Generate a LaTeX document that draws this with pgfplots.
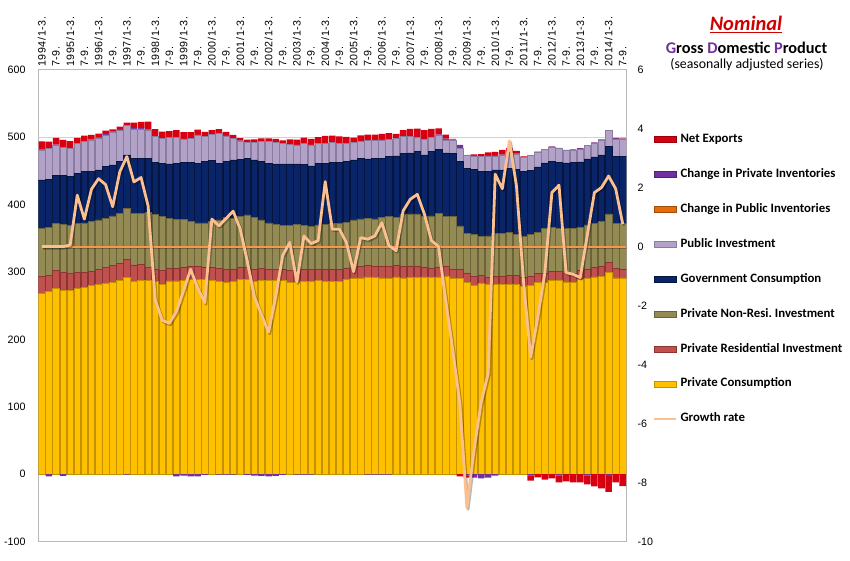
\documentclass[border=0pt]{standalone}
\usepackage{pgfplots}
\pgfplotsset{compat=1.18}
\usepackage{pgfplotstable}
\usepackage{fontspec}
\setmainfont{Carlito}
\newfontfamily\arialf{Liberation Sans}
\frenchspacing
\definecolor{cPC}{HTML}{FFC000}
\definecolor{cPCd}{HTML}{C39200}
\definecolor{cRes}{HTML}{C0504D}
\definecolor{cResd}{HTML}{8C3432}
\definecolor{cNR}{HTML}{948A54}
\definecolor{cNRd}{HTML}{6B6339}
\definecolor{cGov}{HTML}{0A2468}
\definecolor{cGovd}{HTML}{051540}
\definecolor{cPI}{HTML}{B3A2C7}
\definecolor{cPId}{HTML}{8A7BA0}
\definecolor{cPubInv}{HTML}{E46C0A}
\definecolor{cInv}{HTML}{7030A0}
\definecolor{cNX}{HTML}{D80010}
\definecolor{cGr}{HTML}{FAC090}
\definecolor{cZero}{HTML}{F79646}
\definecolor{cTitle}{HTML}{D00000}
\definecolor{cPurp}{HTML}{7030A0}

\pgfplotstableread{
i P R N G I U V X gr
0 268.5 24.8 71.6 71.5 44.1 0 1 12 0
1 270.5 24.3 70.7 71.5 46.2 0 -3 10 0
2 276 26.1 69.2 72.2 44.6 0 0.5 10 0
3 272.5 26.7 71.3 72 42 0 -2.5 11 0
4 272.5 24.8 71.2 73 41.7 0 0.5 10 0.05
5 276 23.4 72.8 74.1 44.2 0 0.5 7.5 1.74
6 277.5 22 73 76 44.5 0 0.5 8.5 0.93
7 279.5 22 72.8 75.2 46 0 1 6.5 1.94
8 281 23.2 73 74 46.8 0 1 6 2.3
9 282.5 24.7 72.3 76.5 46.9 0 1.5 5 2.1
10 284.5 24.6 74 75.4 48.4 0 1.5 3 1.35
11 287 26.1 74 76.4 46.8 0 1.5 3.5 2.53
12 291.5 27.5 75.5 78.8 44.4 0 -0.5 3.5 3.05
13 285.5 25 76.6 81.3 43.4 0 1.5 8 2.19
14 287.5 24 75.6 81.3 43.4 0 1.5 9 2.34
15 287.5 19.5 81.1 80.3 41.9 0 1 11.5 1.38
16 285.5 19 81 76.5 38.5 0 0.5 10.5 -1.8
17 282 20 80.1 78.9 37 0 0.5 9.5 -2.5
18 286.5 19.5 73.5 80.5 39.2 0 0.3 9 -2.6
19 286.5 19.5 72.1 82.9 38.2 0 -3 11 -2.2
20 287.5 19 71.6 83.9 35 0 -2 10 -1.5
21 288.5 19.5 66.3 87.7 36 0 -3 9 -0.77
22 288.5 19.5 64.5 88.5 41.9 0 -3 8 -1.4
23 288.5 19 65 91 37 0 -1 7 -1.9
24 287.5 19 67.8 90.7 38.9 0 0.3 6 0.93
25 285.5 19.5 72.2 83.8 44.5 0 -0.5 6 0.7
26 284.5 19.5 77.1 82.4 38 0 -0.5 6 0.95
27 285.5 19 75 86.5 32 0 -0.5 5 1.2
28 288.5 18.5 75.1 84.8 27.2 0 0.3 4 0.6
29 288.5 18.5 77.5 83.9 23.1 0 -1 4.5 -0.5
30 286 18 77.1 84.9 25.5 0 -2 5 -1.7
31 287.5 17.5 72.2 86.3 29.5 0 -2.5 5 -2.3
32 287 17.5 68 88.5 32 0 -3 5 -2.9
33 287 17.5 66 89.5 31.5 0 -2.5 5.5 -1.7
34 287 17.5 64 91.5 30.5 0 -1 4.5 -0.3
35 284.5 18 66 91.5 29.2 0 0.3 7 0.14
36 284 18 68.5 89.5 28.1 0 -0.5 8 -1.2
37 286 17.5 65 91 31 0 -0.5 8.5 0.36
38 286 17.5 63.8 89.8 31 0 -0.5 9 0.1
39 287 17.5 65 91 30 0 0.3 9 0.2
40 286 17.5 67 90.5 29.5 0 0.5 10.5 2.2
41 286 17.5 67.8 90.7 29.5 0 0.3 10 0.59
42 286 17.5 67.8 90.7 28.5 0 0.5 10 0.59
43 288.5 17.5 67.5 90 27 0 0.5 9 0.14
44 290 17.5 69.7 88.8 25.5 0 0.5 7 -0.85
45 291 17.5 70 90 24.5 0 0.5 9 0.3
46 292.5 17.5 69.5 88 27 0 -0.5 9 0.25
47 291.5 17.5 69.5 90 26 0 -0.5 9 0.36
48 291 18 72.1 87.4 27 0 -0.5 9 0.81
49 290 18 74.1 88.8 25.6 0 -0.5 9 0.03
50 292.5 17.5 71.1 90.9 26 0 0.5 6 -0.14
51 291 17.5 77.6 89.7 24.7 0 0.5 9 1.21
52 291.5 17.5 77.1 90.4 24 0 0.5 11 1.6
53 291.5 17.5 77.1 92.2 21.2 0 0.5 12.5 1.77
54 292.5 15 75.6 90.4 23 0 0.5 13 1.1
55 291.5 14 77.6 95.2 21 0 1 11.5 0.2
56 292.5 14.5 80.1 94.7 21.1 0 1 9 0
57 294 14.5 73.6 94.4 19 0 2 6 -1.8
58 290 14.5 77.6 93.7 19.7 0 1 0.5 -3.5
59 290 14 64.3 95.2 19.7 0 5 -3 -5.3
60 284.5 14 59 96 19.8 0 -1.5 -3.5 -8.85
61 280 13 62 97 20 0 -5 2 -6.9
62 282.5 12 58 96 22.4 0 -6 3.5 -5.3
63 281 11.5 61 95 23.5 0 -5 5 -4.3
64 281 12 63.5 94.7 20.8 0 -2 6 2.45
65 282 12 63.5 93.7 22.1 0 0.5 7 1.96
66 282 13 63.5 95 21 0.3 1 8 3.58
67 282 13 60 96.5 23 0.3 0.5 4 2.05
68 278.5 13 61 97 20 0.3 0.5 1 -1.2
69 280 13 62 96 21.5 0.3 -1.5 -8 -3.75
70 284.5 13 61.5 96.5 22 0.3 0.3 -4.5 -2.4
71 284.5 13 67.4 96.5 19.6 0.3 0.3 -8 -0.9
72 287.5 13 66 97 21.4 0.3 1 -6 1.83
73 287.5 13 64.4 97 21.6 0.3 -1.5 -10.5 2.08
74 285 13.5 66 97 18.5 0.3 0.5 -10.5 -0.88
75 284.5 13.5 66.9 97 18.5 0.3 1 -12 -0.94
76 288.5 14 63 97.5 19 0.3 1 -12 -1.05
77 290.5 14 65 98 19.5 0.3 -1.5 -13.5 0.4
78 292.5 15 64.5 98.5 20.5 0.3 0.5 -18 1.83
79 293.5 15.5 65.5 99 22 0.3 0.5 -21 2.0
80 299 15.5 71.6 99.5 24 0.3 -2.5 -23.5 2.39
81 291 14 67.2 99.5 25 0.3 1.5 -12 1.96
82 291 13.5 66.8 100 26 0.3 1 -17.5 0.76
}\gdp

\pgfplotsset{
  commonaxis/.style={
    at={(38.3pt,19.3pt)}, anchor=south west,
    scale only axis, width=588pt, height=472.2pt,
    xmin=-0.5, xmax=82.5,
  },
  numfont/.style={font=\arialf\fontsize{10.7}{12}\selectfont},
}

\begin{document}
\begin{tikzpicture}
\useasboundingbox (0,0) rectangle (850pt,561pt);

% positive stack
\begin{axis}[commonaxis,
  ymin=-100, ymax=600,
  ybar stacked, bar width=0.92,
  xtick={0,2,...,82},
  xticklabels={1994/1-3.,7-9.,1995/1-3.,7-9.,1996/1-3.,7-9.,1997/1-3.,7-9.,1998/1-3.,7-9.,1999/1-3.,7-9.,2000/1-3.,7-9.,2001/1-3.,7-9.,2002/1-3.,7-9.,2003/1-3.,7-9.,2004/1-3.,7-9.,2005/1-3.,7-9.,2006/1-3.,7-9.,2007/1-3.,7-9.,2008/1-3.,7-9.,2009/1-3.,7-9.,2010/1-3.,7-9.,2011/1-3.,7-9.,2012/1-3.,7-9.,2013/1-3.,7-9.,2014/1-3.,7-9.},
  xticklabel pos=upper,
  xticklabel style={rotate=90, anchor=west, inner sep=2.5pt,
    font=\arialf\addfontfeature{LetterSpace=6}\fontsize{10.7}{12}\selectfont},
  ytick={-100,0,...,600},
  yticklabel style={numfont, anchor=east, inner sep=0pt, xshift=-12.5pt},
  /pgf/number format/assume math mode=true,
  major tick length=0pt,
  ymajorgrids, grid style={draw=gray!35, line width=0.6pt},
  axis line style={draw=gray!55, line width=0.7pt},
]
\addplot[fill=cPC, draw=cPCd, line width=0.55pt] table[x=i,y=P]{\gdp};
\addplot[fill=cRes, draw=cResd, line width=0.55pt] table[x=i,y=R]{\gdp};
\addplot[fill=cNR, draw=cNRd, line width=0.55pt] table[x=i,y=N]{\gdp};
\addplot[fill=cGov, draw=cGovd, line width=0.55pt] table[x=i,y=G]{\gdp};
\addplot[fill=cPI, draw=cPId, line width=0.55pt] table[x=i,y=I]{\gdp};
\addplot[fill=cPubInv, draw=none] table[x=i,y expr={max(\thisrow{U},0)}]{\gdp};
\addplot[fill=cInv, draw=none] table[x=i,y expr={max(\thisrow{V},0)}]{\gdp};
\addplot[fill=cNX, draw=none] table[x=i,y expr={max(\thisrow{X},0)}]{\gdp};
\end{axis}

% negative stack
\begin{axis}[commonaxis,
  ymin=-100, ymax=600,
  ybar stacked, bar width=0.92,
  hide axis,
]
\addplot[fill=cInv, draw=none] table[x=i,y expr={min(\thisrow{V},0)}]{\gdp};
\addplot[fill=cNX, draw=none] table[x=i,y expr={min(\thisrow{X},0)}]{\gdp};
\end{axis}

% growth rate on secondary axis
\begin{axis}[commonaxis,
  ymin=-10, ymax=6,
  axis x line=none, axis y line*=right,
  xtick=\empty,
  ytick={-10,-8,...,6},
  y axis line style={draw=none},
  yticklabel style={numfont, anchor=west, inner sep=0pt, xshift=11pt},
  /pgf/number format/assume math mode=true,
  major tick length=0pt,
  legend style={at={(1.0450,0.8645)}, anchor=north west, draw=none, fill=none,
    inner sep=0pt, row sep=22.9pt,
    font=\bfseries\fontsize{12.8}{14}\selectfont,
    nodes={inner sep=0pt, text height=9pt, text depth=3pt},
    /tikz/every odd column/.append style={column sep=3pt}},
  legend cell align=left,
]
\addplot[forget plot, draw=black, opacity=0.25, line width=2.4pt, xshift=1pt, yshift=-1.3pt] coordinates {(0,0) (82.5,0)};
\addplot[forget plot, draw=cZero, line width=2.1pt] coordinates {(0,0) (82.5,0)};
\addplot[forget plot, draw=black, opacity=0.28, line width=2.9pt, line join=round, xshift=1.2pt, yshift=-1.5pt] table[x=i,y=gr]{\gdp};
\addplot[forget plot, draw=cGr, line width=2.8pt, line join=round] table[x=i,y=gr]{\gdp};

\addlegendimage{legend image code/.code={\draw[fill=cNX,draw=cNX!70!black] (0pt,-3pt) rectangle (22pt,3pt);}}
\addlegendentry{Net Exports}
\addlegendimage{legend image code/.code={\draw[fill=cInv,draw=cInv!70!black] (0pt,-3pt) rectangle (22pt,3pt);}}
\addlegendentry{Change in Private Inventories}
\addlegendimage{legend image code/.code={\draw[fill=cPubInv,draw=cPubInv!70!black] (0pt,-3pt) rectangle (22pt,3pt);}}
\addlegendentry{Change in Public Inventories}
\addlegendimage{legend image code/.code={\draw[fill=cPI,draw=cPId] (0pt,-3pt) rectangle (22pt,3pt);}}
\addlegendentry{Public Investment}
\addlegendimage{legend image code/.code={\draw[fill=cGov,draw=cGovd] (0pt,-3pt) rectangle (22pt,3pt);}}
\addlegendentry{Government Consumption}
\addlegendimage{legend image code/.code={\draw[fill=cNR,draw=cNRd] (0pt,-3pt) rectangle (22pt,3pt);}}
\addlegendentry{Private Non-Resi.\ Investment}
\addlegendimage{legend image code/.code={\draw[fill=cRes,draw=cResd] (0pt,-3pt) rectangle (22pt,3pt);}}
\addlegendentry{Private Residential Investment}
\addlegendimage{legend image code/.code={\draw[fill=cPC,draw=cPCd] (0pt,-3pt) rectangle (22pt,3pt);}}
\addlegendentry{Private Consumption}
\addlegendimage{legend image code/.code={\draw[draw=cGr,line width=2.6pt] (0pt,0pt) -- (22pt,0pt);}}
\addlegendentry{Growth rate}
\end{axis}

% titles
\node[anchor=base, text=cTitle, font=\bfseries\itshape\fontsize{20.5}{24}\selectfont] at (746pt,530.5pt) {\underline{Nominal}};
\node[anchor=base, font=\bfseries\fontsize{16.3}{19}\selectfont] at (746.5pt,507.7pt) {{\color{cPurp}G}ross {\color{cPurp}D}omestic {\color{cPurp}P}roduct};
\node[anchor=base, font=\fontsize{13.8}{16}\selectfont] at (747pt,492.7pt) {(seasonally adjusted series)};
\end{tikzpicture}
\end{document}
